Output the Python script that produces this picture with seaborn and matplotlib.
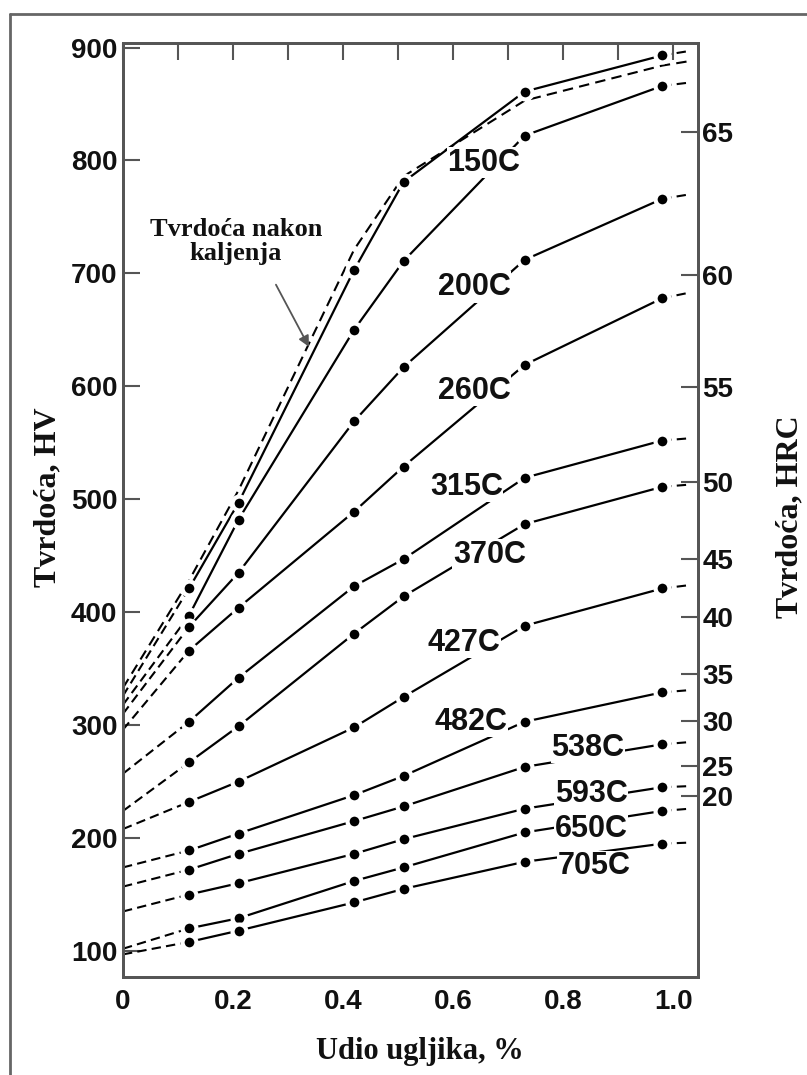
import matplotlib
matplotlib.use("Agg")
import matplotlib.pyplot as plt
import seaborn as sns
import pandas as pd

# ---------------- data ----------------
carbon = [0.12, 0.21, 0.42, 0.51, 0.73, 0.98]   # measured carbon contents
x_start = 0.0     # dashed extrapolation start
x_end = 1.03      # dashed extrapolation end

curve_names = ["top", "150C", "200C", "260C", "315C", "370C", "427C",
               "482C", "538C", "593C", "650C", "705C"]
hv_top = [421, 497, 703, 781, 861, 893]
hv_150 = [397, 482, 650, 711, 822, 866]
hv_200 = [387, 435, 569, 617, 712, 766]
hv_260 = [366, 404, 489, 529, 619, 678]
hv_315 = [303, 342, 423, 447, 519, 552]
hv_370 = [267, 299, 381, 414, 478, 511]
hv_427 = [232, 250, 298, 325, 388, 421]
hv_482 = [189, 204, 238, 255, 303, 329]
hv_538 = [172, 186, 215, 228, 263, 283]
hv_593 = [150, 160, 186, 199, 226, 245]
hv_650 = [120, 129, 162, 174, 205, 224]
hv_705 = [108, 118, 143, 155, 179, 195]
hv_start = [326, 318, 310, 296, 257, 224, 208, 174, 157, 135, 102, 97]
hv_end = [897, 869, 770, 683, 554, 513, 424, 331, 285, 246, 226, 196]

# as-quenched hardness (dashed, no markers)
aq_x = [0.0, 0.12, 0.21, 0.42, 0.51, 0.73, 0.98, 1.03]
aq_hv = [333, 428, 508, 721, 786, 853, 884, 888]

# curve labels
label_text = ["150C", "200C", "260C", "315C", "370C", "427C", "482C",
              "538C", "593C", "650C", "705C"]
label_x = [0.656, 0.638, 0.638, 0.624, 0.666, 0.620, 0.633,
           0.845, 0.851, 0.851, 0.856]
label_y = [798, 688, 596, 511, 451, 373, 303, 280, 239, 208, 175]

# secondary (HRC) axis
hrc_labels = ["65", "60", "55", "50", "45", "40", "35", "30", "25", "20"]
hrc_hv_pos = [825, 699, 599, 515, 447, 396, 345, 304, 264, 237]

hv_ticks = [100, 200, 300, 400, 500, 600, 700, 800, 900]
x_major = [0, 0.2, 0.4, 0.6, 0.8, 1.0]
x_major_labels = ["0", "0.2", "0.4", "0.6", "0.8", "1.0"]
x_minor = [0.1, 0.3, 0.5, 0.7, 0.9]

series = [hv_top, hv_150, hv_200, hv_260, hv_315, hv_370, hv_427,
          hv_482, hv_538, hv_593, hv_650, hv_705]

# ---------------- style ----------------
sns.set_style("white")
plt.rcParams["font.family"] = ["Liberation Sans", "DejaVu Sans"]
SPINE = "#555555"
TXT = "#111111"

fig = plt.figure(figsize=(8.07, 10.75), dpi=100)
ax = fig.add_axes([0.1524, 0.0912, 0.7125, 0.8688])

dash = (0, (4.5, 2.5))

# dashed extrapolations
for name, vals, s, e in zip(curve_names, series, hv_start, hv_end):
    d0 = pd.DataFrame({"x": [x_start, carbon[0]], "hv": [s, vals[0]]})
    d1 = pd.DataFrame({"x": [carbon[-1], x_end], "hv": [vals[-1], e]})
    sns.lineplot(data=d0, x="x", y="hv", ax=ax, color="black", lw=1.5,
                 linestyle=dash, zorder=2)
    sns.lineplot(data=d1, x="x", y="hv", ax=ax, color="black", lw=1.5,
                 linestyle=dash, zorder=2)

# as-quenched dashed curve
aq_df = pd.DataFrame({"x": aq_x, "hv": aq_hv})
sns.lineplot(data=aq_df, x="x", y="hv", ax=ax, color="black", lw=1.5,
             linestyle=(0, (5, 3)), zorder=2)

# tempered curves with markers
for name, vals in zip(curve_names, series):
    df = pd.DataFrame({"x": carbon, "hv": vals})
    sns.lineplot(data=df, x="x", y="hv", ax=ax, color="black", lw=1.6,
                 marker="o", markersize=10, markerfacecolor="black",
                 markeredgecolor="white", markeredgewidth=3, zorder=3)

# curve labels
for t, lx, ly in zip(label_text, label_x, label_y):
    ax.text(lx, ly, t, ha="center", va="center", fontsize=22,
            fontweight="bold", color=TXT, zorder=5,
            bbox=dict(facecolor="white", edgecolor="none", pad=0.5))

# annotation
ax.text(0.205, 728, "Tvrdoća nakon\nkaljenja", ha="center", va="center",
        fontsize=19, fontweight="bold", family=["Liberation Serif"],
        linespacing=1.05, color=TXT, zorder=5)
ax.annotate("", xy=(0.338, 635), xytext=(0.278, 690),
            arrowprops=dict(arrowstyle="-|>", color="#555555", lw=1.3,
                            mutation_scale=16, shrinkA=0, shrinkB=0),
            zorder=5)

# axes
ax.set_xlim(0, 1.045)
ax.set_ylim(77, 904)
ax.set_xticks(x_major)
ax.set_xticklabels(x_major_labels)
ax.set_xticks(x_minor, minor=True)
ax.set_yticks(hv_ticks)
ax.set_yticklabels([str(v) for v in hv_ticks])
ax.tick_params(axis="both", which="both", direction="in", length=12,
               width=1.5, color=SPINE, top=True, right=False,
               labelsize=20)
ax.tick_params(axis="x", which="both", pad=9)
ax.tick_params(axis="y", which="both", pad=4)
for lab in ax.get_xticklabels() + ax.get_yticklabels():
    lab.set_fontweight("bold")
    lab.set_color(TXT)
for sp in ax.spines.values():
    sp.set_color(SPINE)
    sp.set_linewidth(2)

ax.set_xlabel("Udio ugljika, %", fontsize=22, fontweight="bold",
              family=["Liberation Serif"], color=TXT)
ax.set_ylabel("Tvrdoća, HV", fontsize=23, fontweight="bold",
              family=["Liberation Serif"], color=TXT)
ax.xaxis.set_label_coords(0.517, -0.064)
ax.yaxis.set_label_coords(-0.106, 0.514)

ax2 = ax.twinx()
ax2.set_ylim(ax.get_ylim())
ax2.set_yticks(hrc_hv_pos)
ax2.set_yticklabels(hrc_labels)
ax2.tick_params(axis="y", direction="in", length=12, width=1.5,
                color=SPINE, labelsize=20, pad=3)
for lab in ax2.get_yticklabels():
    lab.set_fontweight("bold")
    lab.set_color(TXT)
for sp in ax2.spines.values():
    sp.set_color(SPINE)
    sp.set_linewidth(2)
ax2.set_ylabel("Tvrdoća, HRC", fontsize=23, fontweight="bold",
               family=["Liberation Serif"], color=TXT, rotation=90)
ax2.yaxis.set_label_coords(1.134, 0.4925)

# outer frame (top and left edges visible)
fig.add_artist(plt.Line2D([10 / 807, 1.0], [1 - 14 / 1075, 1 - 14 / 1075],
                          color="#666666", lw=2))
fig.add_artist(plt.Line2D([10 / 807, 10 / 807], [0, 1 - 14 / 1075],
                          color="#666666", lw=2))

fig.savefig("out.png", dpi=100)
